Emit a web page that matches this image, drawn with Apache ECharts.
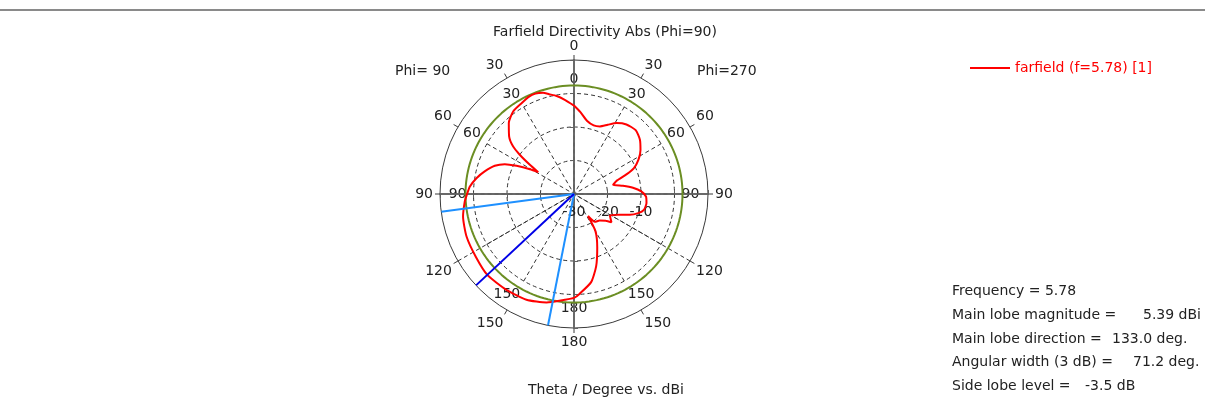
<!DOCTYPE html>
<html>
<head>
<meta charset="utf-8">
<script src="https://cdn.jsdelivr.net/npm/echarts@6/dist/echarts.min.js"></script>
<style>
  html, body { margin: 0; padding: 0; background: #ffffff; }
  #chart { width: 1205px; height: 403px; }
</style>
</head>
<body>
<div id="chart"></div>
<script>
// Farfield directivity cut: theta on the Phi = 90 half (left) and Phi = 270 half (right), in dBi
const thetaPhi90 = [0, 5.6, 10, 14, 17, 21, 25, 30, 36.4, 42.6, 48.4, 52, 54.1, 56.5, 58.6, 60.6, 63.9, 66.7, 70.4, 75.8, 80.8, 86, 91, 94, 101.5, 111.6, 122.7, 133, 144.8, 155.8, 165.8, 175, 180];
const dbPhi90 = [-3.6, -1.75, -0.3, 0.7, 1.6, 2.1, 2.0, 1.3, 0.6, -1.25, -4.1, -6.9, -10.0, -14.2, -17.5, -14.9, -10.9, -7.5, -4.9, -2.5, -0.5, 1.2, 2.1, 2.7, 3.8, 4.5, 4.8, 5.39, 5.0, 4.6, 3.4, 1.7, 1.0];

const thetaPhi270 = [0, 4.5, 10, 16, 21, 26, 31, 37, 44, 50.5, 56.5, 62, 66.6, 69.5, 72.5, 76.8, 80.5, 84, 87.8, 92, 97, 102.8, 106.6, 110.4, 114.4, 121, 127, 130, 136, 143, 147.5, 150, 156.5, 163, 169, 176.7, 180];
const dbPhi270 = [-3.6, -5.5, -7.8, -8.7, -8.4, -7.0, -5.3, -4.0, -3.5, -4.5, -6.2, -8.2, -10.5, -13.3, -16.5, -18.0, -15.2, -12.3, -9.9, -8.5, -8.2, -8.6, -10.0, -12.2, -15.0, -17.5, -16.0, -17.6, -19.0, -19.6, -22.2, -17.2, -12.6, -7.4, -3.2, -0.2, 1.0];

// Axis ticks
const angleTicks = [0, 30, 60, 90, 120, 150, 180, 210, 240, 270, 300, 330, 360];
const radialLabels = [-30, -20, -10];
const radialMin = -30;
const radialMax = 10;
const gridMax = 0;

// Farfield summary
const frequency = 5.78;
const mainLobeMagnitude = 5.39;
const mainLobeDirection = 133.0;
const beamEdges = [97.6, 168.8];
const angularWidth = 71.2;
const sideLobeLevel = -3.5;
const halfPowerLevel = mainLobeMagnitude - 3;

const seriesName = 'farfield (f=' + frequency + ') [1]';
const FONT = 'DejaVu Sans';
const TXT = '#222222';

const CX = 574, CY = 194, R = 134;
const gridR = R * (gridMax - radialMin) / (radialMax - radialMin);

// Plot angle runs counter-clockwise from the top: Phi=90 half on the left, Phi=270 half mirrored on the right
const farfieldData = thetaPhi90.map((t, i) => [dbPhi90[i], t])
  .concat(thetaPhi270.map((t, i) => [dbPhi270[i], 360 - t]).reverse());

const ringAngles = [];
for (let a = 0; a <= 360; a += 2) ringAngles.push(a);
const halfPowerRing = ringAngles.map(a => [halfPowerLevel, a]);

const thetaLabel = v => String(v > 180 ? 360 - v : v);

const polar = [];
const angleAxis = [];
const radiusAxis = [];

// Outer frame with the outer theta labels
polar.push({ center: [CX, CY], radius: R });
angleAxis.push({
  polarIndex: 0, type: 'value', min: 0, max: 360, interval: 30,
  startAngle: 90, clockwise: false, z: 2,
  axisLine: { show: true, lineStyle: { color: '#3a3a3a', width: 1 } },
  axisTick: { show: true, length: 5, lineStyle: { color: '#3a3a3a', width: 1 } },
  axisLabel: { show: true, margin: 7, color: TXT, fontSize: 14, fontFamily: FONT, formatter: thetaLabel },
  splitLine: {
    show: true,
    lineStyle: {
      type: [4, 3], width: 1,
      color: angleTicks.map(v => (v === 120 || v === 240) ? '#333333' : 'rgba(0,0,0,0)')
    }
  }
});
radiusAxis.push({
  polarIndex: 0, type: 'value', min: radialMin, max: radialMax, interval: 10,
  axisLine: { show: false }, axisTick: { show: false }, axisLabel: { show: false }, splitLine: { show: false }
});

// Dashed grid with the inner theta labels
polar.push({ center: [CX, CY], radius: gridR });
angleAxis.push({
  polarIndex: 1, type: 'value', min: 0, max: 360, interval: 30,
  startAngle: 90, clockwise: false, z: 1,
  axisLine: { show: false }, axisTick: { show: false },
  axisLabel: {
    show: true, margin: 7, color: TXT, fontSize: 14, fontFamily: FONT,
    formatter: v => (v === 120 || v === 240) ? '' : thetaLabel(v)
  },
  splitLine: { show: true, lineStyle: { type: [4, 3], color: '#333333', width: 1 } }
});
radiusAxis.push({
  polarIndex: 1, type: 'value', min: radialMin, max: gridMax, interval: 10,
  axisLine: { show: false }, axisTick: { show: false }, axisLabel: { show: false },
  splitLine: { show: true, lineStyle: { type: [4, 3], color: '#333333', width: 1 } }
});

// Solid cross-hair axes through the centre, ticks on both sides
const directions = [90, 0, 180, 270];
directions.forEach(dir => {
  [false, true].forEach(inside => {
    const idx = polar.length;
    polar.push({ center: [CX, CY], radius: R });
    angleAxis.push({ polarIndex: idx, type: 'value', min: 0, max: 360, startAngle: dir, show: false });
    radiusAxis.push({
      polarIndex: idx, type: 'value', min: radialMin, max: radialMax, interval: 10, z: 3,
      axisLine: { show: true, lineStyle: { color: '#606060', width: 1.5 } },
      axisTick: { show: true, inside: inside, length: 4, lineStyle: { color: '#606060', width: 1 } },
      axisLabel: {
        // dB labels sit just below the right-hand half of the horizontal axis
        show: dir === 0 && !inside, margin: -11, verticalAlign: 'top', align: 'center',
        color: TXT, fontSize: 14, fontFamily: FONT,
        formatter: v => radialLabels.indexOf(v) >= 0 ? String(v) : ''
      },
      splitLine: { show: false }
    });
  });
});

const directionLine = (angle, color) => ({
  type: 'line', coordinateSystem: 'polar', polarIndex: 0, silent: true,
  showSymbol: false, symbol: 'none', z: 5,
  lineStyle: { color: color, width: 2 },
  data: [[radialMin, angle], [radialMax, angle]]
});

const chart = echarts.init(document.getElementById('chart'), null, { renderer: 'canvas' });
chart.setOption({
  animation: false,
  backgroundColor: '#ffffff',
  textStyle: { fontFamily: FONT },
  polar: polar,
  angleAxis: angleAxis,
  radiusAxis: radiusAxis,
  legend: {
    data: [{ name: seriesName, icon: 'rect' }],
    left: 970, top: 61, padding: 0, selectedMode: false,
    itemWidth: 40, itemHeight: 2,
    textStyle: { color: '#ff0000', fontSize: 14, fontFamily: FONT }
  },
  series: [
    {
      name: 'half power', type: 'line', coordinateSystem: 'polar', polarIndex: 0, silent: true,
      showSymbol: false, symbol: 'none', z: 3,
      lineStyle: { color: '#6b8e23', width: 2 },
      data: halfPowerRing
    },
    {
      name: seriesName, type: 'line', coordinateSystem: 'polar', polarIndex: 0,
      showSymbol: false, symbol: 'none', smooth: 0.2, z: 4,
      itemStyle: { color: '#ff0000' },
      lineStyle: { color: '#ff0000', width: 2 },
      data: farfieldData
    },
    directionLine(beamEdges[0], '#1e90ff'),
    directionLine(beamEdges[1], '#1e90ff'),
    directionLine(mainLobeDirection, '#0000e6')
  ],
  graphic: [
    { type: 'line', shape: { x1: 0, y1: 10, x2: 1205, y2: 10 }, style: { stroke: '#8a8a8a', lineWidth: 2 } },
    { type: 'text', x: 605, y: 32, style: { text: 'Farfield Directivity Abs (Phi=90)', fill: TXT, font: '14px "' + FONT + '"', textAlign: 'center', textVerticalAlign: 'middle' } },
    { type: 'text', x: 395, y: 71, style: { text: 'Phi= 90', fill: TXT, font: '14px "' + FONT + '"', textAlign: 'left', textVerticalAlign: 'middle' } },
    { type: 'text', x: 697, y: 71, style: { text: 'Phi=270', fill: TXT, font: '14px "' + FONT + '"', textAlign: 'left', textVerticalAlign: 'middle' } },
    { type: 'text', x: 606, y: 390, style: { text: 'Theta / Degree vs. dBi', fill: TXT, font: '14px "' + FONT + '"', textAlign: 'center', textVerticalAlign: 'middle' } },
    { type: 'text', x: 952, y: 291, style: { text: 'Frequency = ' + frequency, fill: TXT, font: '14px "' + FONT + '"', textVerticalAlign: 'middle' } },
    { type: 'text', x: 952, y: 315, style: { text: 'Main lobe magnitude =', fill: TXT, font: '14px "' + FONT + '"', textVerticalAlign: 'middle' } },
    { type: 'text', x: 1143, y: 315, style: { text: mainLobeMagnitude.toFixed(2) + ' dBi', fill: TXT, font: '14px "' + FONT + '"', textVerticalAlign: 'middle' } },
    { type: 'text', x: 952, y: 339, style: { text: 'Main lobe direction =', fill: TXT, font: '14px "' + FONT + '"', textVerticalAlign: 'middle' } },
    { type: 'text', x: 1112, y: 339, style: { text: mainLobeDirection.toFixed(1) + ' deg.', fill: TXT, font: '14px "' + FONT + '"', textVerticalAlign: 'middle' } },
    { type: 'text', x: 952, y: 362, style: { text: 'Angular width (3 dB) =', fill: TXT, font: '14px "' + FONT + '"', textVerticalAlign: 'middle' } },
    { type: 'text', x: 1133, y: 362, style: { text: angularWidth.toFixed(1) + ' deg.', fill: TXT, font: '14px "' + FONT + '"', textVerticalAlign: 'middle' } },
    { type: 'text', x: 952, y: 386, style: { text: 'Side lobe level =', fill: TXT, font: '14px "' + FONT + '"', textVerticalAlign: 'middle' } },
    { type: 'text', x: 1085, y: 386, style: { text: sideLobeLevel.toFixed(1) + ' dB', fill: TXT, font: '14px "' + FONT + '"', textVerticalAlign: 'middle' } }
  ]
});
</script>
</body>
</html>
